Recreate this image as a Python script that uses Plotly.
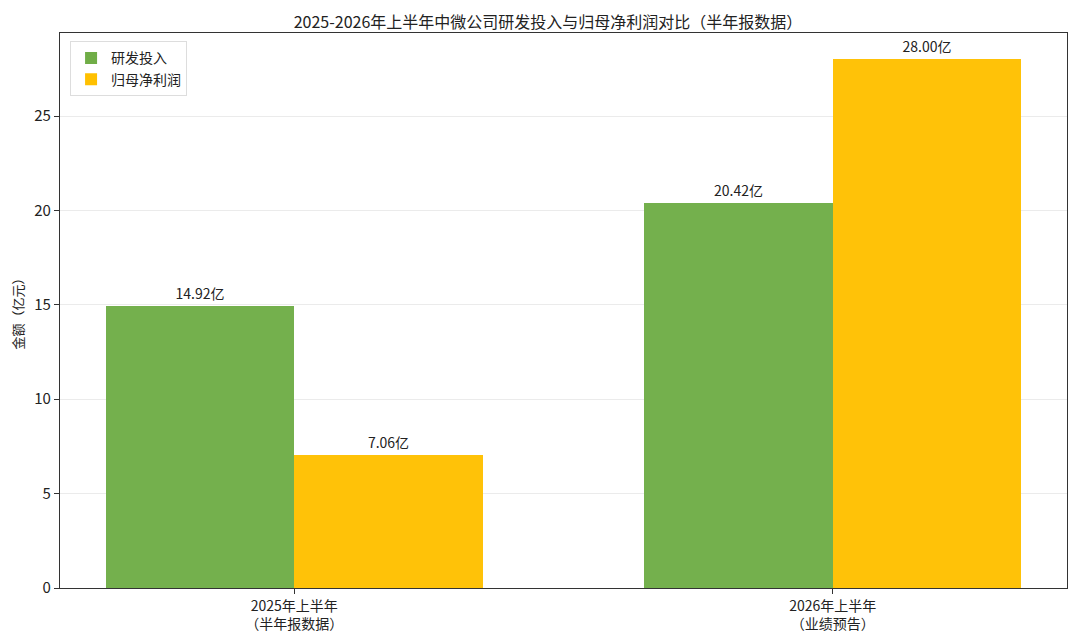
import plotly.graph_objects as go

# data (亿元)
periods = ["2025年上半年<br>（半年报数据）", "2026年上半年<br>（业绩预告）"]
rd_spend = [14.92, 20.42]
net_profit = [7.06, 28.00]
y_ticks = [0, 5, 10, 15, 20, 25]

FONT = "Noto Sans CJK SC"
xpos = list(range(len(periods)))

fig = go.Figure()

fig.add_trace(go.Bar(
    x=xpos, y=rd_spend, name="研发投入",
    width=0.35, offset=-0.35,
    marker=dict(color="#70AD47", opacity=0.97, line=dict(width=0)),
    texttemplate="%{y:.2f}亿", textposition="outside",
    textfont=dict(size=14, color="#222222", family=FONT),
    cliponaxis=False,
))
fig.add_trace(go.Bar(
    x=xpos, y=net_profit, name="归母净利润",
    width=0.35, offset=0,
    marker=dict(color="#FFC000", opacity=0.97, line=dict(width=0)),
    texttemplate="%{y:.2f}亿", textposition="outside",
    textfont=dict(size=14, color="#222222", family=FONT),
    cliponaxis=False,
))

# page body has an 8px margin, so margins are shifted to land the plot where the reference has it
fig.update_layout(
    width=1080, height=642,
    margin=dict(l=52, r=21, t=25, b=62, autoexpand=False),
    paper_bgcolor="white", plot_bgcolor="white",
    font=dict(family=FONT, size=13, color="#222222"),
    title=dict(text="2025-2026年上半年中微公司研发投入与归母净利润对比（半年报数据）",
               x=0.5, xanchor="center", y=0.978, yanchor="middle",
               font=dict(size=16, color="#222222", family=FONT)),
    legend=dict(x=0.01, y=0.985, xanchor="left", yanchor="top",
                bgcolor="rgba(255,255,255,0.9)", bordercolor="#dddddd", borderwidth=1,
                font=dict(size=14, family=FONT)),
    bargap=0,
)

fig.update_xaxes(
    range=[-0.435, 1.435],
    tickvals=xpos, ticktext=periods,
    showline=True, mirror=True, linecolor="#333333", linewidth=1.2,
    ticks="outside", ticklen=5, tickcolor="#333333",
    showgrid=False, zeroline=False,
    tickfont=dict(size=14),
)
fig.update_yaxes(
    range=[0, 29.4],
    tickvals=y_ticks,
    showline=True, mirror=True, linecolor="#333333", linewidth=1.2,
    ticks="outside", ticklen=5, tickcolor="#333333",
    showgrid=True, gridcolor="#ebebeb", gridwidth=1, zeroline=False,
    tickfont=dict(size=15),
    title=dict(text="金额（亿元）", font=dict(size=13), standoff=14),
)

fig.write_html("out.html")
